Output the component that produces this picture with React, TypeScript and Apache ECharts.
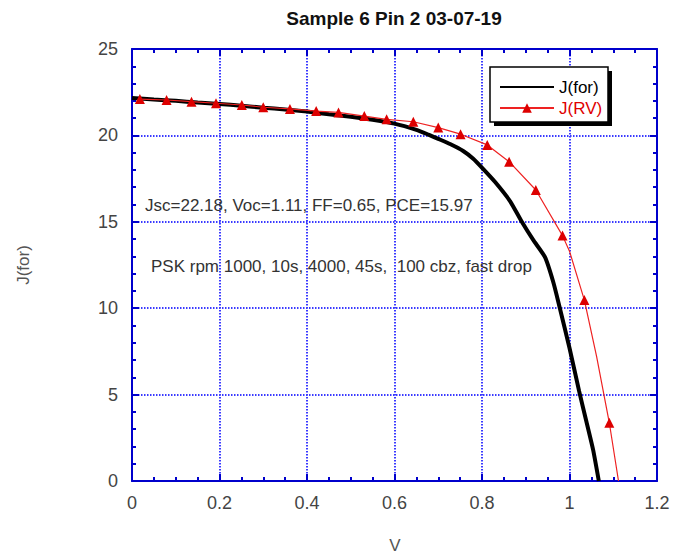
import React, { useEffect, useRef } from "react";
import * as echarts from "echarts";

const FONT = "'Liberation Sans', Arial, sans-serif";

// X axis ticks (V)
const xTicks = [0, 0.2, 0.4, 0.6, 0.8, 1, 1.2];
// Y axis ticks (J)
const yTicks = [0, 5, 10, 15, 20, 25];

// Forward scan J(for)
const forV = [0, 0.05, 0.1, 0.15, 0.2, 0.25, 0.3, 0.35, 0.4, 0.45, 0.5, 0.55, 0.6, 0.65, 0.677, 0.7, 0.727, 0.757, 0.78, 0.803, 0.83, 0.864, 0.891, 0.917, 0.944, 0.963, 0.977, 1.0, 1.022, 1.039, 1.054, 1.067];
const forJ = [22.17, 22.08, 22.0, 21.9, 21.82, 21.72, 21.6, 21.5, 21.38, 21.22, 21.08, 20.9, 20.68, 20.32, 20.05, 19.8, 19.5, 19.1, 18.65, 18.05, 17.3, 16.2, 15.0, 13.95, 12.95, 11.5, 10.1, 7.7, 5.2, 3.4, 1.8, 0];

// Reverse scan J(RV): marked points
const rvV = [0.018, 0.079, 0.136, 0.192, 0.251, 0.3, 0.361, 0.421, 0.472, 0.531, 0.582, 0.643, 0.7, 0.751, 0.812, 0.862, 0.923, 0.984, 1.034, 1.091];
const rvJ = [22.1, 22.05, 21.95, 21.86, 21.76, 21.63, 21.53, 21.41, 21.33, 21.12, 20.93, 20.79, 20.45, 20.07, 19.45, 18.48, 16.84, 14.2, 10.47, 3.37];
// Reverse scan: unmarked points of the line between markers
const rvExtraV = [1.0, 1.062, 1.112];
const rvExtraJ = [13.3, 7.2, 0];

const titleText = "Sample 6 Pin 2 03-07-19";
const note1 = "Jsc=22.18, Voc=1.11, FF=0.65, PCE=15.97";
const note2 = "PSK rpm 1000, 10s, 4000, 45s,  100 cbz, fast drop";

const BLUE = "#0000cc";

export default function App() {
  const ref = useRef<HTMLDivElement>(null);
  useEffect(() => {
    if (!ref.current) return;
    const chart = echarts.init(ref.current, undefined, { renderer: "svg" });
    const xMin = xTicks[0];
    const xMax = xTicks[xTicks.length - 1];
    const xInt = xTicks[1] - xTicks[0];
    const yMin = yTicks[0];
    const yMax = yTicks[yTicks.length - 1];
    const yInt = yTicks[1] - yTicks[0];
    const tickCommon = {
      axisLine: { show: true, onZero: false, lineStyle: { color: BLUE, width: 2 } },
      axisTick: { show: true, inside: true, length: 7, lineStyle: { color: BLUE, width: 2 } },
      minorTick: { show: true, length: 4, lineStyle: { color: BLUE, width: 2 } },
    };
    const splitLine = { show: true, lineStyle: { color: "#3a3aff", type: [1.5, 1.5], width: 2 } };

    const rvPoints: any[] = rvV.map((v, i) => ({ value: [v, rvJ[i]] }));
    rvExtraV.forEach((v, i) => rvPoints.push({ value: [v, rvExtraJ[i]], symbol: "none" }));
    rvPoints.sort((a, b) => a.value[0] - b.value[0]);

    const option = {
      animation: false,
      backgroundColor: "#ffffff",
      grid: { left: 132, right: 18, top: 49, bottom: 74, show: false },
      xAxis: [
        {
          type: "value", min: xMin, max: xMax, interval: xInt,
          ...tickCommon,
          minorTick: { ...tickCommon.minorTick, splitNumber: 4 },
          splitLine,
          axisLabel: { fontSize: 18, color: "#444", margin: 13, fontFamily: FONT },
        },
        {
          type: "value", position: "top", min: xMin, max: xMax, interval: xInt,
          ...tickCommon,
          minorTick: { ...tickCommon.minorTick, splitNumber: 4 },
          splitLine: { show: false },
          axisLabel: { show: false },
        },
      ],
      yAxis: [
        {
          type: "value", min: yMin, max: yMax, interval: yInt,
          ...tickCommon,
          minorTick: { ...tickCommon.minorTick, splitNumber: 5 },
          splitLine,
          axisLabel: { fontSize: 18, color: "#444", margin: 14, fontFamily: FONT },
        },
        {
          type: "value", position: "right", min: yMin, max: yMax, interval: yInt,
          ...tickCommon,
          minorTick: { ...tickCommon.minorTick, splitNumber: 5 },
          splitLine: { show: false },
          axisLabel: { show: false },
        },
      ],
      legend: {
        data: [
          { name: "J(for)", textStyle: { color: "#000" }, itemStyle: { color: "rgba(0,0,0,0)", borderColor: "rgba(0,0,0,0)", borderWidth: 0 } },
          { name: "J(RV)", textStyle: { color: "#e00000" } },
        ],
        orient: "vertical",
        left: 499,
        top: 78.5,
        itemWidth: 54,
        itemHeight: 12,
        itemGap: 4,
        padding: 0,
        z: 10,
        textStyle: { fontSize: 17, fontFamily: FONT },
      },
      graphic: [
        { type: "rect", z: 5, shape: { x: 494, y: 71, width: 118, height: 55 }, style: { fill: "#000" } },
        { type: "rect", z: 6, shape: { x: 490, y: 67, width: 118, height: 55 }, style: { fill: "#fff", stroke: "#000", lineWidth: 1.5 } },
        { type: "text", z: 6, x: 394, y: 18, style: { text: titleText, font: `bold 19px ${FONT}`, fill: "#111", align: "center", verticalAlign: "middle" } },
        { type: "text", z: 6, x: 145, y: 205, style: { text: note1, font: `17px ${FONT}`, fill: "#333", align: "left", verticalAlign: "middle" } },
        { type: "text", z: 6, x: 151, y: 266, style: { text: note2, font: `17px ${FONT}`, fill: "#333", align: "left", verticalAlign: "middle" } },
        { type: "text", z: 6, x: 23, y: 265, rotation: Math.PI / 2, style: { text: "J(for)", font: `17px ${FONT}`, fill: "#555", align: "center", verticalAlign: "middle" } },
        { type: "text", z: 6, x: 395, y: 545, style: { text: "V", font: `17px ${FONT}`, fill: "#555", align: "center", verticalAlign: "middle" } },
      ],
      series: [
        {
          type: "line", name: "J(for)",
          data: forV.map((v, i) => [v, forJ[i]]),
          symbol: "none",
          smooth: 0.2,
          lineStyle: { color: "#000", width: 4 },
          itemStyle: { color: "#000" },
          z: 3,
        },
        {
          type: "line", name: "J(RV)",
          data: rvPoints,
          symbol: "triangle",
          symbolSize: 10,
          lineStyle: { color: "#ee2222", width: 1.2 },
          itemStyle: { color: "#dd0000" },
          z: 4,
        },
      ],
    };
    chart.setOption(option as any);
    return () => chart.dispose();
  }, []);
  return (
    <div
      ref={ref}
      style={{ position: "absolute", left: 0, top: 0, width: 675, height: 555, background: "#fff" }}
    />
  );
}
